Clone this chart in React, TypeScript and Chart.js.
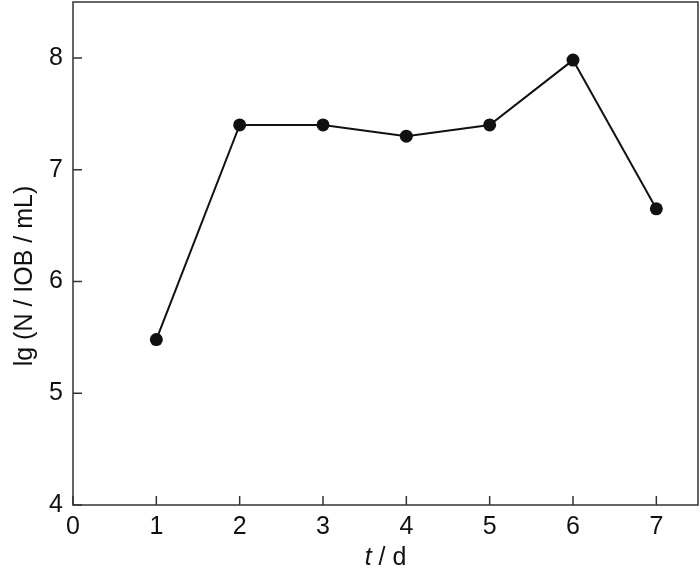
import { useEffect, useRef } from 'react';
import { Chart, registerables } from 'chart.js';

Chart.register(...registerables);

const days = [1, 2, 3, 4, 5, 6, 7];
const lgCounts = [5.48, 7.4, 7.4, 7.3, 7.4, 7.98, 6.65];
const xTicks = [0, 1, 2, 3, 4, 5, 6, 7];
const yTicks = [4, 5, 6, 7, 8];
const yTitle = 'lg (N / IOB / mL)';
const xTitleItalic = 't';
const xTitleRest = ' / d';

const FONT = 'Liberation Sans, Arial, sans-serif';
const AXIS_COLOR = '#333333';
const FS = 25;

const framePlugin = {
  id: 'frame',
  afterDraw(chart: any) {
    const { ctx, chartArea } = chart;
    const xs = chart.scales.x;
    const ys = chart.scales.y;
    ctx.save();
    ctx.strokeStyle = AXIS_COLOR;
    ctx.lineWidth = 1.5;
    ctx.strokeRect(chartArea.left, chartArea.top, chartArea.right - chartArea.left, chartArea.bottom - chartArea.top);
    ctx.beginPath();
    xTicks.forEach((v) => {
      const px = xs.getPixelForValue(v);
      ctx.moveTo(px, chartArea.bottom);
      ctx.lineTo(px, chartArea.bottom - 9);
    });
    yTicks.forEach((v) => {
      const py = ys.getPixelForValue(v);
      ctx.moveTo(chartArea.left, py);
      ctx.lineTo(chartArea.left + 9, py);
    });
    ctx.stroke();
    // x axis title with italic t
    ctx.fillStyle = '#111';
    ctx.textBaseline = 'alphabetic';
    ctx.font = `italic ${FS}px ${FONT}`;
    const w1 = ctx.measureText(xTitleItalic).width;
    ctx.font = `${FS}px ${FONT}`;
    const w2 = ctx.measureText(xTitleRest).width;
    const cx = (chartArea.left + chartArea.right) / 2;
    const startX = cx - (w1 + w2) / 2;
    const y = 565;
    ctx.font = `italic ${FS}px ${FONT}`;
    ctx.textAlign = 'left';
    ctx.fillText(xTitleItalic, startX, y);
    ctx.font = `${FS}px ${FONT}`;
    ctx.fillText(xTitleRest, startX + w1, y);
    // y axis title
    ctx.save();
    ctx.translate(32, 276);
    ctx.rotate(-Math.PI / 2);
    ctx.textAlign = 'center';
    ctx.textBaseline = 'alphabetic';
    ctx.font = `${FS}px ${FONT}`;
    ctx.fillText(yTitle, 0, 0);
    ctx.restore();
    ctx.restore();
  },
};

export default function App() {
  const ref = useRef<HTMLCanvasElement | null>(null);
  useEffect(() => {
    document.body.style.margin = '0';
    const canvas = ref.current;
    if (!canvas) return;
    const chart = new Chart(canvas, {
      type: 'line',
      data: {
        datasets: [
          {
            data: days.map((d, i) => ({ x: d, y: lgCounts[i] })),
            borderColor: '#111',
            borderWidth: 2,
            backgroundColor: '#111',
            pointBackgroundColor: '#111',
            pointBorderColor: '#111',
            pointRadius: 6.5,
            pointBorderWidth: 0,
            tension: 0,
          },
        ],
      },
      options: {
        animation: false,
        responsive: false,
        maintainAspectRatio: false,
        layout: { autoPadding: false, padding: { top: 2, right: 2, left: 0, bottom: 0 } },
        plugins: { legend: { display: false }, tooltip: { enabled: false } },
        scales: {
          x: {
            type: 'linear',
            min: 0,
            max: 7.5,
            afterBuildTicks: (s: any) => {
              s.ticks = xTicks.map((v) => ({ value: v }));
            },
            afterFit: (s: any) => {
              s.height = 68;
              s.paddingLeft = 0;
              s.paddingRight = 0;
            },
            grid: { display: false, drawTicks: false },
            border: { display: false },
            ticks: {
              color: '#111',
              font: { family: FONT, size: FS },
              padding: 7,
              maxRotation: 0,
              autoSkip: false,
            },
          },
          y: {
            type: 'linear',
            min: 4,
            max: 8.5,
            afterBuildTicks: (s: any) => {
              s.ticks = yTicks.map((v) => ({ value: v }));
            },
            afterFit: (s: any) => {
              s.width = 73;
              s.paddingTop = 0;
              s.paddingBottom = 0;
            },
            grid: { display: false, drawTicks: false },
            border: { display: false },
            ticks: {
              color: '#111',
              font: { family: FONT, size: FS },
              padding: 10,
              autoSkip: false,
            },
          },
        },
      },
      plugins: [framePlugin],
    });
    return () => chart.destroy();
  }, []);
  return (
    <div style={{ width: 700, height: 573 }}>
      <canvas ref={ref} width={700} height={573} style={{ display: 'block' }} />
    </div>
  );
}
